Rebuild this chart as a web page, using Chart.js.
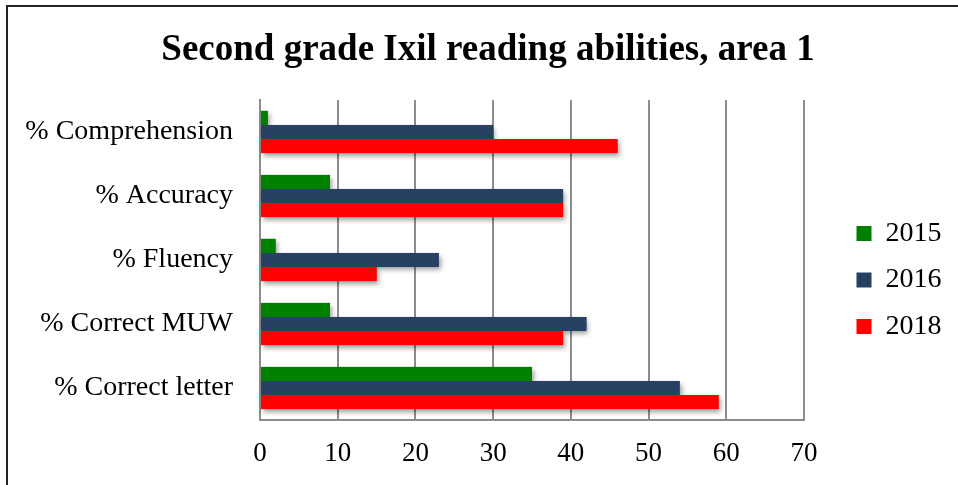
<!DOCTYPE html>
<html>
<head>
<meta charset="utf-8">
<script src="https://cdn.jsdelivr.net/npm/chart.js@4/dist/chart.umd.min.js"></script>
<style>
  html, body { margin: 0; padding: 0; background: #ffffff; overflow: hidden; }
  #wrap { position: relative; width: 958px; height: 485px; }
  #frame {
    position: absolute; left: 6px; top: 5px; width: 1000px; height: 1000px;
    border-left: 2px solid #222; border-top: 2px solid #222; pointer-events: none;
  }
</style>
</head>
<body>
<div id="wrap">
  <canvas id="chart" width="958" height="485"></canvas>
  <div id="frame"></div>
</div>
<script>
// Reading skills of second graders, by year
const categories = ['% Comprehension', '% Accuracy', '% Fluency', '% Correct MUW', '% Correct letter'];
const years = ['2015', '2016', '2018'];
const values2015 = [1, 9, 2, 9, 35];
const values2016 = [30, 39, 23, 42, 54];
const values2018 = [46, 39, 15, 39, 59];
const xTicks = [0, 10, 20, 30, 40, 50, 60, 70];

const colors = ['#008000', '#284162', '#ff0000'];
const gridColor = '#8c8c8c';
const serif = 'Liberation Serif';

// Soft drop shadows behind every bar, painted before the bars themselves
const barShadows = {
  id: 'barShadows',
  beforeDatasetsDraw(chart) {
    const ctx = chart.ctx;
    ctx.save();
    ctx.shadowColor = 'rgba(0,0,0,0.38)';
    ctx.shadowBlur = 5;
    ctx.shadowOffsetX = 2;
    ctx.shadowOffsetY = 3;
    chart.data.datasets.forEach((ds, i) => {
      const meta = chart.getDatasetMeta(i);
      ctx.fillStyle = ds.backgroundColor;
      meta.data.forEach(el => {
        const p = el.getProps(['x', 'y', 'base', 'height'], true);
        ctx.fillRect(Math.min(p.base, p.x), p.y - p.height / 2, Math.abs(p.x - p.base), p.height);
      });
    });
    ctx.restore();
  }
};

// Places the legend column right of the plot and centres the title over the page
const blockPlacement = {
  id: 'blockPlacement',
  afterLayout(chart) {
    const lg = chart.legend;
    if (lg) {
      lg.left = 838;
      lg.right = chart.width;
      lg.width = lg.right - lg.left;
      lg.top += 37.5;
      lg.bottom += 37.5;
    }
    const tb = chart.titleBlock;
    if (tb) {
      tb.left = 18;
      tb.right = chart.width;
      tb.width = tb.right - tb.left;
    }
  }
};

new Chart(document.getElementById('chart'), {
  type: 'bar',
  data: {
    labels: categories,
    datasets: [
      { label: years[0], data: values2015, backgroundColor: colors[0], borderWidth: 0 },
      { label: years[1], data: values2016, backgroundColor: colors[1], borderWidth: 0 },
      { label: years[2], data: values2018, backgroundColor: colors[2], borderWidth: 0 }
    ]
  },
  options: {
    indexAxis: 'y',
    responsive: false,
    animation: false,
    devicePixelRatio: 1,
    events: [],
    categoryPercentage: 0.66,
    barPercentage: 1.0,
    layout: { padding: { left: 0, right: 60, top: 0, bottom: 0 } },
    scales: {
      x: {
        min: 0,
        max: 70,
        afterBuildTicks(scale) { scale.ticks = xTicks.map(v => ({ value: v })); },
        afterFit(scale) { scale.height = 65; },
        grid: { color: gridColor, lineWidth: 2, drawTicks: false },
        border: { display: true, color: gridColor, width: 2 },
        ticks: { color: '#000', padding: 18, font: { family: serif, size: 27 } }
      },
      y: {
        afterFit(scale) { scale.width = 260; },
        grid: { display: false, drawTicks: false },
        border: { display: true, color: gridColor, width: 2 },
        ticks: { color: '#000', padding: 27, font: { family: serif, size: 28 } }
      }
    },
    plugins: {
      title: {
        display: true,
        text: 'Second grade Ixil reading abilities, area 1',
        color: '#000',
        font: { family: serif, size: 37, weight: 'bold' },
        padding: { top: 28, bottom: 27.6 }
      },
      legend: {
        display: true,
        position: 'right',
        maxWidth: 94,
        labels: {
          color: '#000',
          boxWidth: 15,
          boxHeight: 15,
          padding: 18.5,
          font: { family: serif, size: 28 }
        }
      },
      tooltip: { enabled: false }
    }
  },
  plugins: [barShadows, blockPlacement]
});
</script>
</body>
</html>
